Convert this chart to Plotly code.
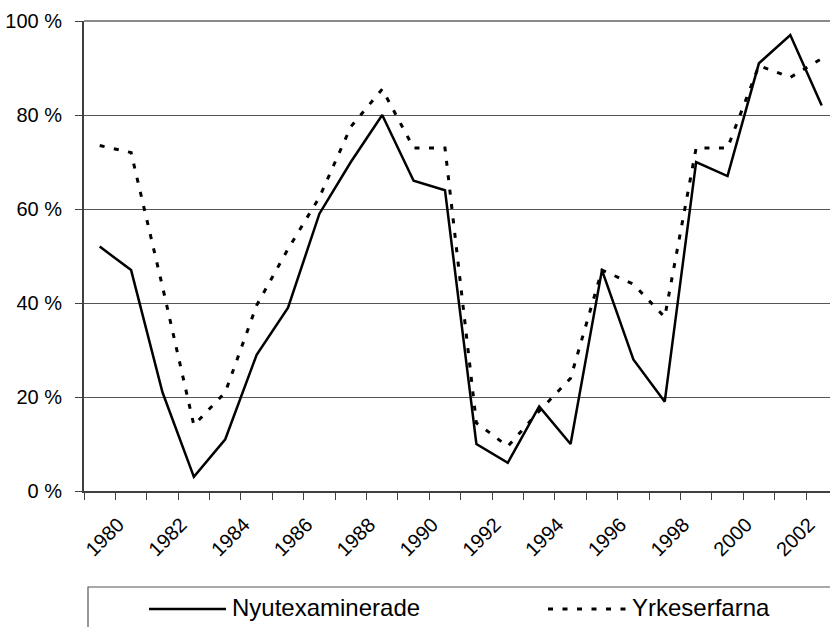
import plotly.graph_objects as go

# Data (percent)
years = list(range(1979, 2003))  # one value per year, plotted mid-year
nyutexaminerade = [52, 47, 21, 3, 11, 29, 39, 59, 70, 80, 66, 64,
                   10, 6, 18, 10, 47, 28, 19, 70, 67, 91, 97, 82]
yrkeserfarna = [73.5, 72, 43.5, 14, 21, 39.5, 51.5, 62.5, 77.5, 85.5, 73, 73,
                14.5, 9.5, 17, 24, 47, 44, 37, 73, 73, 90.5, 88, 92]

tick_years = list(range(1979, 2004))
tick_labels = [str(y) if y % 2 == 0 else "" for y in tick_years]
y_ticks = [0, 20, 40, 60, 80, 100]
y_labels = [f"{v} %" for v in y_ticks]

x_mid = [y + 0.5 for y in years]

FONT = "Liberation Sans, Arial, sans-serif"

fig = go.Figure()
fig.add_trace(go.Scatter(
    x=x_mid, y=nyutexaminerade, mode="lines", name="Nyutexaminerade",
    line=dict(color="black", width=2.5), showlegend=False,
))
fig.add_trace(go.Scatter(
    x=x_mid, y=yrkeserfarna, mode="lines", name="Yrkeserfarna",
    line=dict(color="black", width=3, dash="5px,9.5px"), showlegend=False,
))

W, H = 830, 627
L, T, B, R = 84, 21, 136, 0
pw = W - L - R
ph = H - T - B
px_per_year = 722 / 23
x_end = 1979 + pw / px_per_year

def px2paper_x(px):
    return (px - L) / pw

def py2paper_y(py):
    return (H - B - py) / ph

fig.update_layout(
    width=W, height=H,
    margin=dict(l=L, r=R, t=T, b=B, pad=0, autoexpand=False),
    paper_bgcolor="white", plot_bgcolor="white",
    font=dict(family=FONT, color="black", size=20),
    xaxis=dict(
        range=[1979, x_end], tickmode="array",
        tickvals=tick_years, ticktext=tick_labels,
        tickangle=-45, ticks="outside", ticklen=7, tickwidth=1,
        tickcolor="#404040", showline=True, linecolor="#404040", linewidth=2,
        showgrid=False, zeroline=False, ticklabelstandoff=5, ticklabelshift=3,
        tickfont=dict(size=20, family=FONT, color="black"), automargin=False,
    ),
    yaxis=dict(
        range=[0, 100], tickmode="array", tickvals=y_ticks, ticktext=y_labels,
        ticks="outside", ticklen=7, tickwidth=1,
        tickcolor="#404040", showline=True, linecolor="#404040", linewidth=2,
        showgrid=True, gridcolor="#555555", gridwidth=1, zeroline=False,
        ticklabelstandoff=9, tickfont=dict(size=20, family=FONT, color="black"),
        automargin=False,
    ),
)

shapes = []
# top border of plot area
shapes.append(dict(type="line", xref="paper", yref="paper", x0=0, x1=1.01,
                   y0=1, y1=1, line=dict(color="#8a8a8a", width=2)))
# legend box
shapes.append(dict(type="rect", xref="paper", yref="paper",
                   x0=px2paper_x(88), x1=px2paper_x(850),
                   y0=py2paper_y(660), y1=py2paper_y(587),
                   line=dict(color="#555555", width=1.2), fillcolor="rgba(0,0,0,0)"))
# legend samples
ly = py2paper_y(609)
shapes.append(dict(type="line", xref="paper", yref="paper",
                   x0=px2paper_x(149), x1=px2paper_x(226), y0=ly, y1=ly,
                   line=dict(color="black", width=2.5)))
shapes.append(dict(type="line", xref="paper", yref="paper",
                   x0=px2paper_x(548), x1=px2paper_x(627), y0=ly, y1=ly,
                   line=dict(color="black", width=3, dash="5px,9.5px")))
fig.update_layout(shapes=shapes)

fig.add_annotation(text="Nyutexaminerade", xref="paper", yref="paper",
                   x=px2paper_x(230), y=py2paper_y(607.5), xanchor="left",
                   yanchor="middle", showarrow=False,
                   font=dict(size=24, family=FONT, color="black"))
fig.add_annotation(text="Yrkeserfarna", xref="paper", yref="paper",
                   x=px2paper_x(630), y=py2paper_y(607.5), xanchor="left",
                   yanchor="middle", showarrow=False,
                   font=dict(size=24, family=FONT, color="black"))

fig.write_html(
    "out.html",
    config={"displayModeBar": False},
    post_script="document.body.style.margin='0';document.body.style.overflow='hidden';",
)
